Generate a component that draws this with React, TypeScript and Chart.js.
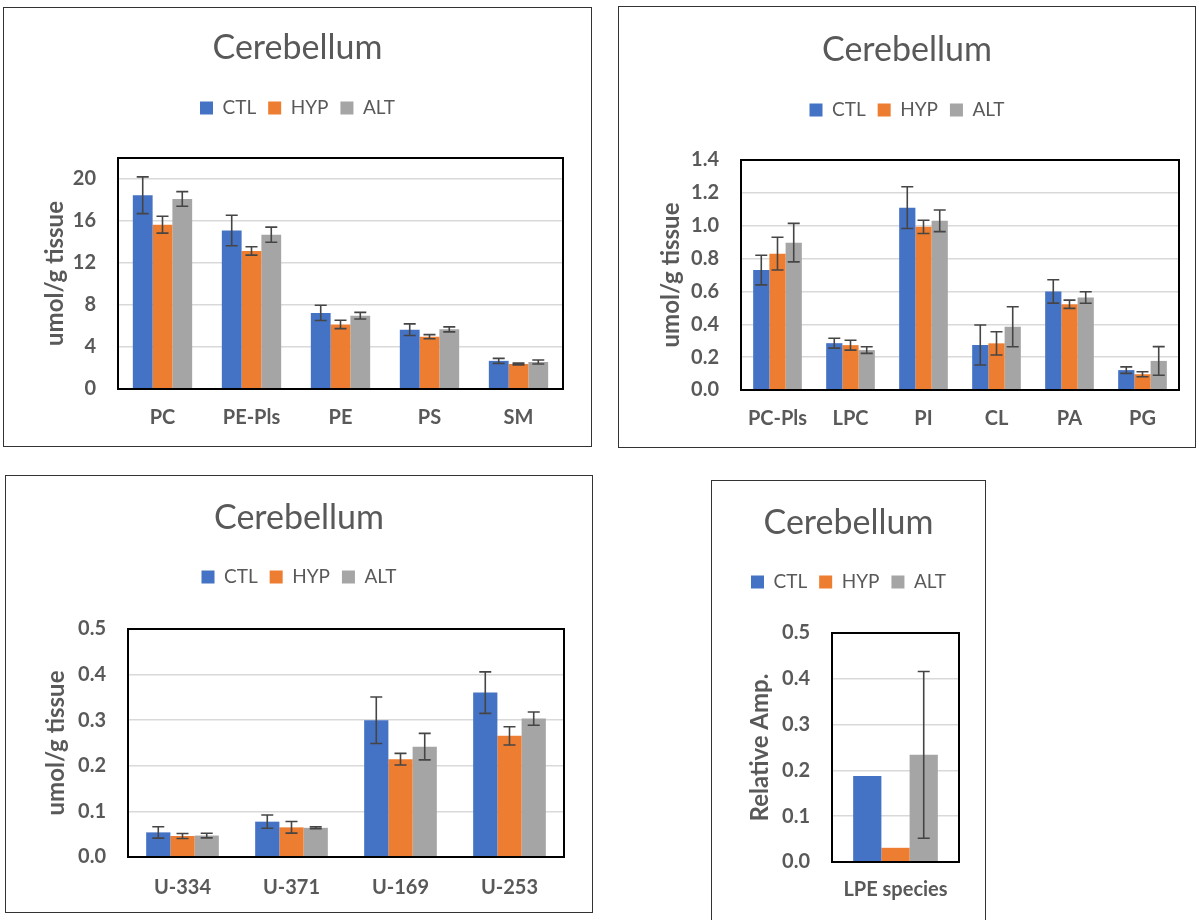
import React, { useEffect, useRef } from 'react';
import { Chart, registerables } from 'chart.js';

Chart.register(...registerables);

// ---------- data ----------
const seriesNames = ['CTL', 'HYP', 'ALT'];
const seriesColors = ['#4472C4', '#ED7D31', '#A5A5A5'];

const p1Categories = ['PC', 'PE-Pls', 'PE', 'PS', 'SM'];
const p1CTL = [18.45, 15.1, 7.25, 5.65, 2.68];
const p1CTLErr = [1.75, 1.45, 0.72, 0.55, 0.24];
const p1HYP = [15.65, 13.15, 6.15, 4.98, 2.38];
const p1HYPErr = [0.8, 0.4, 0.4, 0.2, 0.08];
const p1ALT = [18.1, 14.7, 6.98, 5.68, 2.57];
const p1ALTErr = [0.7, 0.72, 0.32, 0.24, 0.19];
const p1Ticks = [0, 4, 8, 12, 16, 20];

const p2Categories = ['PC-Pls', 'LPC', 'PI', 'CL', 'PA', 'PG'];
const p2CTL = [0.73, 0.285, 1.11, 0.274, 0.6, 0.121];
const p2CTLErr = [0.09, 0.03, 0.127, 0.122, 0.071, 0.02];
const p2HYP = [0.83, 0.273, 0.993, 0.284, 0.522, 0.096];
const p2HYPErr = [0.1, 0.03, 0.04, 0.071, 0.025, 0.015];
const p2ALT = [0.897, 0.243, 1.03, 0.385, 0.563, 0.177];
const p2ALTErr = [0.117, 0.02, 0.066, 0.122, 0.035, 0.087];
const p2Ticks = [0, 0.2, 0.4, 0.6, 0.8, 1.0, 1.2, 1.4];

const p3Categories = ['U-334', 'U-371', 'U-169', 'U-253'];
const p3CTL = [0.054, 0.0775, 0.3, 0.3605];
const p3CTLErr = [0.0125, 0.0145, 0.051, 0.0455];
const p3HYP = [0.046, 0.065, 0.2145, 0.2657];
const p3HYPErr = [0.0055, 0.0127, 0.0128, 0.02];
const p3ALT = [0.047, 0.064, 0.242, 0.3035];
const p3ALTErr = [0.005, 0.002, 0.029, 0.0146];
const p3Ticks = [0, 0.1, 0.2, 0.3, 0.4, 0.5];

const p4Categories = ['LPE species'];
const p4CTL = [0.188];
const p4CTLErr = [null];
const p4HYP = [0.031];
const p4HYPErr = [null];
const p4ALT = [0.234];
const p4ALTErr = [0.182];
const p4Ticks = [0, 0.1, 0.2, 0.3, 0.4, 0.5];

const chartTitle = 'Cerebellum';

// ---------- styling / geometry ----------
const TEXT = '#595959';
const FONT = 'Lato, "Open Sans", sans-serif';
const TITLE_SIZE = 34;
const LEGEND_SIZE = 19;
const LEGEND_PAD = 12;
const TICK_SIZE = 20;
const YTITLE_SIZE = 24;

type Panel = {
  box: { x: number; y: number; w: number; h: number };
  plot: { l: number; t: number; r: number; b: number };
  titleY: number; legendY: number; yTitleX: number; xLabelY: number;
  yMax: number; decimals: number; yTitle: string;
  categories: string[]; values: number[][]; errors: (number | null)[][]; ticks: number[];
};

const panels: Panel[] = [
  {
    box: { x: 3, y: 7, w: 589, h: 440 },
    plot: { l: 118, t: 158, r: 563, b: 389 },
    titleY: 48, legendY: 108, yTitleX: 55, xLabelY: 418,
    yMax: 22, decimals: 0, yTitle: 'umol/g tissue',
    categories: p1Categories, values: [p1CTL, p1HYP, p1ALT], errors: [p1CTLErr, p1HYPErr, p1ALTErr], ticks: p1Ticks,
  },
  {
    box: { x: 618, y: 6, w: 578, h: 442 },
    plot: { l: 741, t: 160, r: 1179, b: 390 },
    titleY: 50, legendY: 110, yTitleX: 671, xLabelY: 419,
    yMax: 1.4, decimals: 1, yTitle: 'umol/g tissue',
    categories: p2Categories, values: [p2CTL, p2HYP, p2ALT], errors: [p2CTLErr, p2HYPErr, p2ALTErr], ticks: p2Ticks,
  },
  {
    box: { x: 5, y: 475, w: 588, h: 438 },
    plot: { l: 128, t: 629, r: 564, b: 857 },
    titleY: 518, legendY: 577, yTitleX: 56, xLabelY: 888,
    yMax: 0.5, decimals: 1, yTitle: 'umol/g tissue',
    categories: p3Categories, values: [p3CTL, p3HYP, p3ALT], errors: [p3CTLErr, p3HYPErr, p3ALTErr], ticks: p3Ticks,
  },
  {
    box: { x: 711, y: 480, w: 275, h: 445 },
    plot: { l: 832, t: 633, r: 959, b: 862 },
    titleY: 523, legendY: 582, yTitleX: 760, xLabelY: 890,
    yMax: 0.5, decimals: 1, yTitle: 'Relative Amp.',
    categories: p4Categories, values: [p4CTL, p4HYP, p4ALT], errors: [p4CTLErr, p4HYPErr, p4ALTErr], ticks: p4Ticks,
  },
];

// ---------- plugins ----------
const errorBarPlugin = {
  id: 'errorBars',
  afterDatasetsDraw(chart: any) {
    const ctx = chart.ctx;
    const y = chart.scales.y;
    ctx.save();
    ctx.strokeStyle = '#454545';
    ctx.lineWidth = 1.6;
    chart.data.datasets.forEach((ds: any, i: number) => {
      const errs = ds.errors;
      if (!errs) return;
      const meta = chart.getDatasetMeta(i);
      meta.data.forEach((bar: any, j: number) => {
        const e = errs[j];
        if (e == null) return;
        const v = ds.data[j];
        const yTop = y.getPixelForValue(v + e);
        const yBot = y.getPixelForValue(v - e);
        const x = bar.x;
        const cap = 6;
        ctx.beginPath();
        ctx.moveTo(x, yTop); ctx.lineTo(x, yBot);
        ctx.moveTo(x - cap, yTop); ctx.lineTo(x + cap, yTop);
        ctx.moveTo(x - cap, yBot); ctx.lineTo(x + cap, yBot);
        ctx.stroke();
      });
    });
    ctx.restore();
  },
};

const plotBorderPlugin = {
  id: 'plotBorder',
  afterDraw(chart: any) {
    const { left, top, right, bottom } = chart.chartArea;
    const ctx = chart.ctx;
    ctx.save();
    ctx.strokeStyle = '#000000';
    ctx.lineWidth = 2;
    ctx.strokeRect(left, top, right - left, bottom - top);
    ctx.restore();
  },
};

function buildConfig(p: Panel): any {
  const { box, plot } = p;
  const side = box.x + box.w - plot.r; // symmetric side padding keeps title/legend centred
  const titleLH = TITLE_SIZE * 1.2;
  const padTop = p.titleY - box.y - titleLH / 2;
  const legendTop = p.legendY - box.y - LEGEND_PAD - LEGEND_SIZE / 2;
  const padBottom = legendTop - (padTop + titleLH);
  const legendH = LEGEND_SIZE + LEGEND_PAD + 10;
  const spacer = plot.t - box.y - legendTop - legendH;
  const yAxisW = plot.l - box.x - side;
  const xAxisH = box.h - (plot.b - box.y);
  const yTitleLH = YTITLE_SIZE * 1.2;
  const xLabelPad = p.xLabelY - plot.b - (TICK_SIZE * 1.2) / 2;

  return {
    type: 'bar',
    data: {
      labels: p.categories,
      datasets: seriesNames.map((name, i) => ({
        label: name,
        data: p.values[i],
        errors: p.errors[i],
        backgroundColor: seriesColors[i],
        borderWidth: 0,
        categoryPercentage: 2 / 3,
        barPercentage: 1,
      })),
    },
    options: {
      responsive: false,
      animation: false,
      devicePixelRatio: 1,
      events: [],
      layout: { padding: { left: side, top: 0, bottom: 0, right: side } },
      plugins: {
        title: {
          display: true,
          text: chartTitle,
          color: TEXT,
          font: { family: FONT, size: TITLE_SIZE, weight: 'normal', lineHeight: 1.2 },
          padding: { top: padTop, bottom: padBottom },
        },
        legend: {
          display: true,
          position: 'top',
          labels: {
            color: TEXT,
            font: { family: FONT, size: LEGEND_SIZE, weight: 'normal' },
            boxWidth: 13,
            boxHeight: 13,
            padding: LEGEND_PAD,
          },
        },
        subtitle: {
          display: true,
          text: '',
          weight: 500,
          font: { size: 1, lineHeight: 1 },
          padding: { top: 0, bottom: Math.max(0, spacer - 1) },
        },
        tooltip: { enabled: false },
      },
      scales: {
        x: {
          grid: { display: false, drawTicks: false },
          border: { display: false },
          ticks: {
            color: TEXT,
            font: { family: FONT, size: TICK_SIZE, weight: 'bold', lineHeight: 1.2 },
            padding: xLabelPad,
            maxRotation: 0,
            autoSkip: false,
          },
          afterFit(scale: any) { scale.height = xAxisH; },
        },
        y: {
          min: 0,
          max: p.yMax,
          grid: { color: '#D9D9D9', lineWidth: 1.5, drawTicks: false },
          border: { display: false },
          ticks: {
            color: TEXT,
            font: { family: FONT, size: TICK_SIZE, weight: 'bold' },
            padding: 22,
            callback: (v: any) => Number(v).toFixed(p.decimals),
          },
          afterBuildTicks(scale: any) {
            scale.ticks = p.ticks.map((v) => ({ value: v }));
          },
          title: {
            display: true,
            text: p.yTitle,
            color: TEXT,
            font: { family: FONT, size: YTITLE_SIZE, weight: 'bold', lineHeight: 1.2 },
            padding: { top: p.yTitleX - box.x - side - yTitleLH / 2, bottom: 0 },
          },
          afterFit(scale: any) { scale.width = yAxisW; },
        },
      },
    },
    plugins: [errorBarPlugin, plotBorderPlugin],
  };
}

function PanelChart({ p }: { p: Panel }) {
  const ref = useRef<HTMLCanvasElement | null>(null);
  useEffect(() => {
    if (!ref.current) return;
    const chart = new Chart(ref.current, buildConfig(p));
    return () => chart.destroy();
  }, [p]);
  const { x, y, w, h } = p.box;
  return (
    <>
      <canvas
        ref={ref}
        width={w}
        height={h}
        style={{ position: 'absolute', left: x, top: y, width: w, height: h }}
      />
      <div
        style={{
          position: 'absolute', left: x, top: y, width: w, height: h,
          border: '1.5px solid #333333', boxSizing: 'border-box', pointerEvents: 'none',
        }}
      />
    </>
  );
}

export default function App() {
  return (
    <div
      style={{
        position: 'absolute', left: 0, top: 0, width: 1199, height: 920,
        overflow: 'hidden', background: '#ffffff',
      }}
    >
      {panels.map((p, i) => (
        <PanelChart key={i} p={p} />
      ))}
    </div>
  );
}
